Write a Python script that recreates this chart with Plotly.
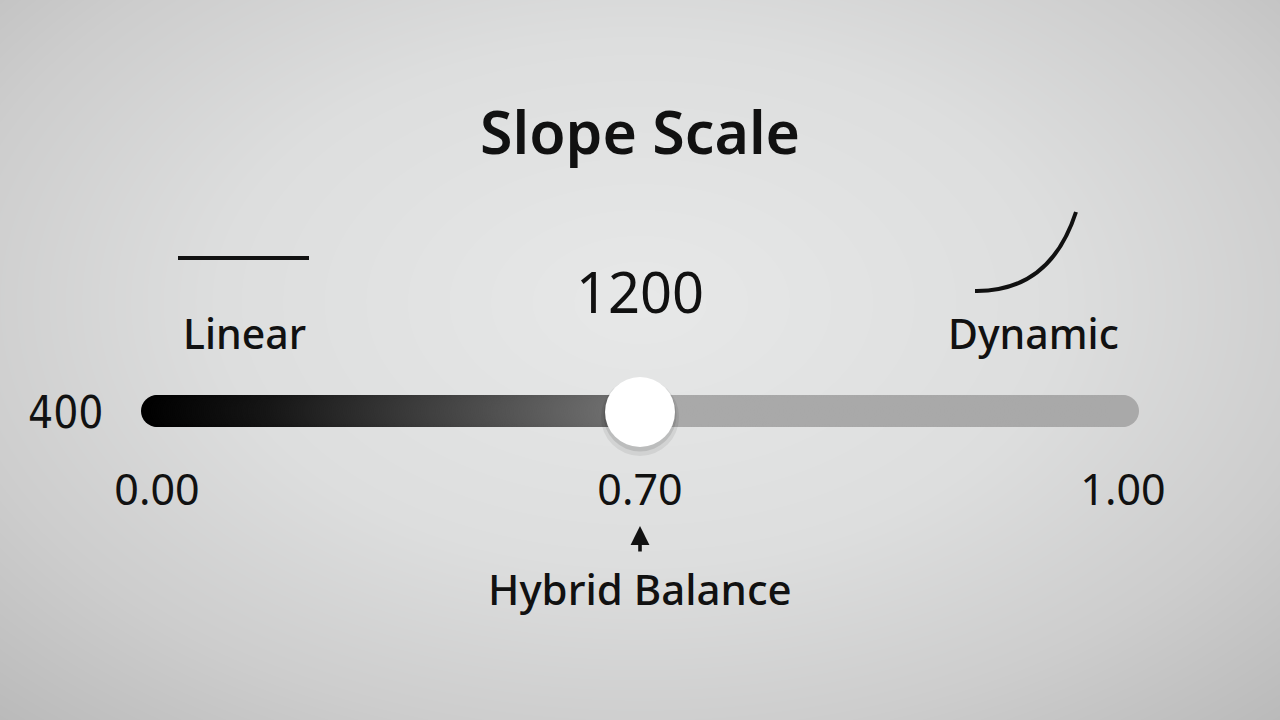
import numpy as np
import plotly.graph_objects as go

# slider content
title_text = "Slope Scale"
left_label = "Linear"
right_label = "Dynamic"
min_value_label = "400"
current_value_label = "1200"
scale_ticks = [0.00, 0.70, 1.00]
slider_value = 0.70
marker_label = "Hybrid Balance"

W, H = 1280, 720
# slider units -> pixels: 0 at px 157, 1 at px 1123
X0, X1 = 157, 1123
span = X1 - X0
x_range = [-X0 / span, (W - X0) / span]

# ticks are spread evenly along the track
tick_pos = [i / (len(scale_ticks) - 1) for i in range(len(scale_ticks))]
tick_text = ["%.2f" % v for v in scale_ticks]
thumb_x = tick_pos[scale_ticks.index(slider_value)]

font_main = "Noto Sans, Open Sans, DejaVu Sans, sans-serif"

fig = go.Figure()

# radial grey background
bx = np.linspace(x_range[0], x_range[1], 129)
by = np.linspace(0, H, 73)
gx, gy = np.meshgrid((bx - x_range[0]) / (x_range[1] - x_range[0]) - 0.5, by / H - 0.42)
rr = np.sqrt((gx * 1.05) ** 2 + (gy * 0.95) ** 2)
fig.add_trace(go.Heatmap(x=bx, y=by, z=rr, zsmooth="best", showscale=False, hoverinfo="skip",
                         colorscale=[[0, "#e7e8e8"], [0.45, "#dddede"], [0.75, "#cdcdcd"], [1, "#bababa"]]))

# track: filled (gradient) part and remaining part
track_y = 411
left_x = np.linspace(0, thumb_x, 250)
right_x = np.linspace(thumb_x, 1, 250)
fig.add_trace(go.Scatter(x=right_x, y=[track_y] * len(right_x), mode="markers", hoverinfo="skip",
                         marker=dict(size=32, color="#a9a9a9", line=dict(width=0))))
fig.add_trace(go.Scatter(x=left_x, y=[track_y] * len(left_x), mode="markers", hoverinfo="skip",
                         marker=dict(size=32, color=left_x, colorscale=[[0, "#000000"], [0.25, "#151515"], [1, "#727272"]],
                                     line=dict(width=0))))

# thumb with soft shadow
fig.add_trace(go.Scatter(x=[thumb_x], y=[track_y + 6], mode="markers", hoverinfo="skip",
                         marker=dict(size=78, color="rgba(0,0,0,0.07)", line=dict(width=0))))
fig.add_trace(go.Scatter(x=[thumb_x], y=[track_y + 4], mode="markers", hoverinfo="skip",
                         marker=dict(size=73, color="rgba(0,0,0,0.10)", line=dict(width=0))))
fig.add_trace(go.Scatter(x=[thumb_x], y=[track_y + 1], mode="markers", hoverinfo="skip",
                         marker=dict(size=70, color="#ffffff", line=dict(width=0))))

# tick labels under the track
fig.add_trace(go.Scatter(x=tick_pos, y=[494] * len(tick_pos), mode="text", text=tick_text, hoverinfo="skip",
                         textfont=dict(family=font_main, size=43, color="#111111")))

ann = []
ann.append(dict(x=0.5, y=131, xref="x", yref="y", text=title_text, showarrow=False,
                font=dict(family=font_main, size=59, color="#111111", weight=600)))
ann.append(dict(x=thumb_x, y=291, text=current_value_label, showarrow=False,
                font=dict(family=font_main, size=56, color="#111111")))
ann.append(dict(x=(244 - X0) / span, y=333, text=left_label, showarrow=False,
                font=dict(family=font_main, size=41, color="#111111", weight=500)))
ann.append(dict(x=(1033 - X0) / span, y=333, text=right_label, showarrow=False,
                font=dict(family=font_main, size=41, color="#111111", weight=500)))
ann.append(dict(x=(66 - X0) / span, y=412, text=min_value_label, showarrow=False,
                font=dict(family="Liberation Sans Narrow, DejaVu Sans Condensed, sans-serif", size=44, color="#111111")))
ann.append(dict(x=thumb_x, y=588, text=marker_label, showarrow=False,
                font=dict(family=font_main, size=42, color="#111111", weight=500)))
# small arrow pointing up to the value
ann.append(dict(x=thumb_x, y=526, ax=thumb_x, ay=553, axref="x", ayref="y", text="", showarrow=True,
                arrowhead=2, arrowsize=1.05, arrowwidth=3.6, arrowcolor="#111111"))

# icons: flat line for linear, curve for dynamic
shapes = [
    dict(type="line", xref="paper", yref="paper", x0=178 / W, x1=309 / W, y0=1 - 258 / H, y1=1 - 258 / H,
         line=dict(color="#111111", width=4)),
    dict(type="path", xref="paper", yref="paper",
         path="M %f,%f Q %f,%f %f,%f" % (975 / W, 1 - 291 / H, 1050 / W, 1 - 292 / H, 1076 / W, 1 - 212 / H),
         line=dict(color="#111111", width=4)),
]

fig.update_layout(width=W, height=H, margin=dict(l=0, r=0, t=0, b=0),
                  paper_bgcolor="#dcdcdc", plot_bgcolor="#dcdcdc", showlegend=False,
                  annotations=ann, shapes=shapes)
fig.update_xaxes(range=x_range, visible=False, fixedrange=True)
fig.update_yaxes(range=[H, 0], visible=False, fixedrange=True)

fig.write_html("out.html", config={"displayModeBar": False})

# drop the default page margin so the figure fills the window
with open("out.html") as f:
    page = f.read()
page = page.replace("<body>", '<body style="margin:0;overflow:hidden">', 1)
with open("out.html", "w") as f:
    f.write(page)
